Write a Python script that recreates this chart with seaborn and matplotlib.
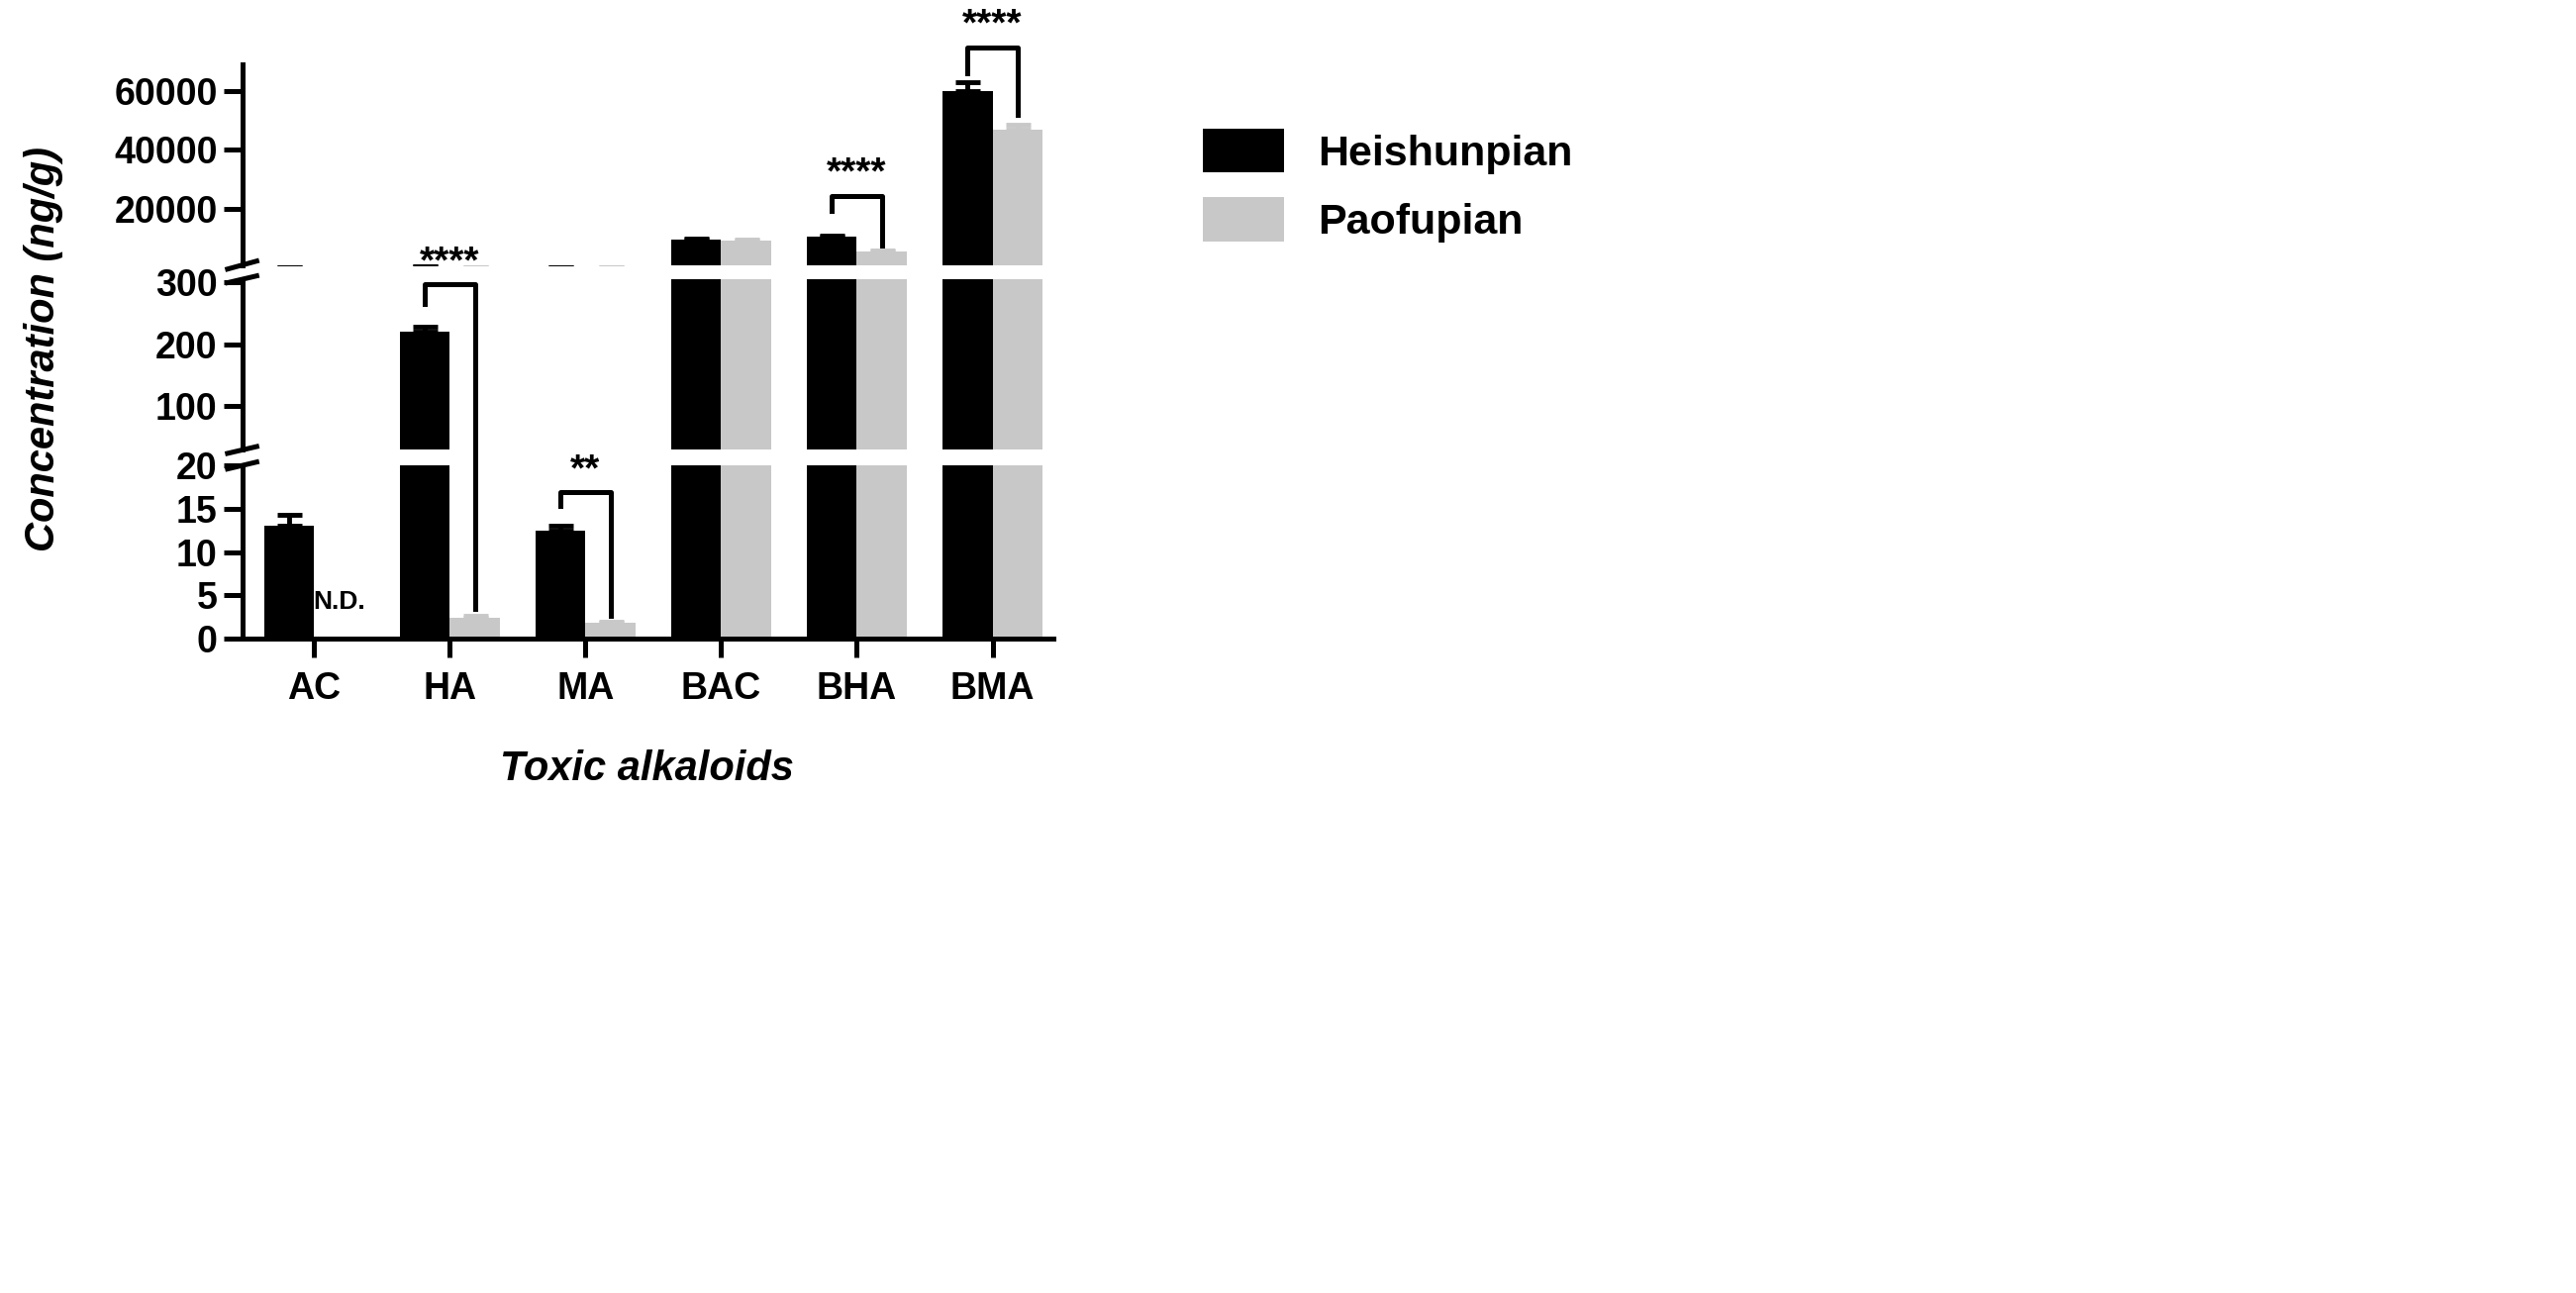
import numpy as np
import pandas as pd
import matplotlib
matplotlib.use('Agg')
import matplotlib.pyplot as plt
from matplotlib.lines import Line2D
import seaborn as sns

plt.rcParams['font.family'] = 'Liberation Sans'
plt.rcParams['font.weight'] = 'bold'

categories = ['AC', 'HA', 'MA', 'BAC', 'BHA', 'BMA']
heishunpian = [13.0, 220, 12.5, 9500, 10300, 60000]
heishunpian_err = [1.3, 8, 0.6, 300, 400, 3000]
paofupian = [0.0, 2.4, 1.8, 9000, 5500, 47000]
paofupian_err = [0.0, 0.2, 0.2, 300, 300, 1500]

df = pd.DataFrame({
    'Alkaloid': categories * 2,
    'Concentration': heishunpian + paofupian,
    'Group': ['Heishunpian'] * 6 + ['Paofupian'] * 6,
})
palette = {'Heishunpian': '#000000', 'Paofupian': '#c8c8c8'}

fig = plt.figure(figsize=(26.02, 13.06), dpi=100)
L, W = 0.094, 0.315
ax_top = fig.add_axes([L, 0.795, W, 0.155])
ax_mid = fig.add_axes([L, 0.652, W, 0.132])
ax_bot = fig.add_axes([L, 0.506, W, 0.134])
axes = [ax_top, ax_mid, ax_bot]

width = 0.74
for ax in axes:
    sns.barplot(data=df, x='Alkaloid', y='Concentration', hue='Group', palette=palette,
                width=width, errorbar=None, ax=ax, legend=(ax is ax_top), saturation=1,
                linewidth=0)
    for i in range(6):
        for off, vals, errs, col in [(-width / 4, heishunpian, heishunpian_err, 'black'),
                                     (width / 4, paofupian, paofupian_err, '#c8c8c8')]:
            if errs[i] > 0:
                ax.errorbar(i + off, vals[i], yerr=[[0], [errs[i]]], color=col,
                            capsize=9, capthick=3.5, elinewidth=3.5)
    ax.set_xlim(-0.53, 5.45)
    ax.set_xlabel('')
    ax.set_ylabel('')
    for s in ['top', 'right']:
        ax.spines[s].set_visible(False)
    ax.spines['left'].set_linewidth(3.6)
    ax.tick_params(axis='y', width=3.6, length=14, labelsize=27, pad=4)
    ax.tick_params(axis='x', width=3.6, length=14, labelsize=27, pad=10)

ax_top.set_ylim(700, 69000)
ax_top.set_yticks([20000, 40000, 60000])
ax_mid.set_ylim(29, 305)
ax_mid.set_yticks([100, 200, 300])
ax_bot.set_ylim(0, 20)
ax_bot.set_yticks([0, 5, 10, 15, 20])

for ax in [ax_top, ax_mid]:
    ax.spines['bottom'].set_visible(False)
    ax.tick_params(axis='x', bottom=False, labelbottom=False)
ax_bot.spines['bottom'].set_linewidth(3.6)
for ax in axes:
    for t in ax.get_yticklabels() + ax.get_xticklabels():
        t.set_fontweight('bold')

# break marks on the left spine
kw = dict(color='black', lw=3.6, clip_on=False)
for ax, ends in [(ax_top, [0]), (ax_mid, [0, 1]), (ax_bot, [1])]:
    for e in ends:
        ax.plot([-0.018, 0.018], [e - 0.02, e + 0.02], transform=ax.transAxes, **kw)

ax_bot.text(0 + width / 4, 4.3, 'N.D.', ha='center', va='center', fontsize=19, fontweight='bold')

def to_fig(ax, x, y):
    p = ax.transData.transform((x, y))
    return fig.transFigure.inverted().transform(p)

def bracket(i, ax_l, y_top, y_l, ax_r, y_r, label):
    xl, xr = i - width / 4, i + width / 4
    p1 = to_fig(ax_l, xl, y_l)
    p2 = to_fig(ax_l, xl, y_top)
    p3 = to_fig(ax_l, xr, y_top)
    p4 = to_fig(ax_r, xr, y_r)
    fig.add_artist(Line2D([p1[0], p2[0], p3[0], p4[0]], [p1[1], p2[1], p3[1], p4[1]],
                          color='black', lw=3.6, transform=fig.transFigure))
    fig.text((p2[0] + p3[0]) / 2, p2[1] + 0.003, label, ha='center', va='bottom',
             fontsize=28, fontweight='bold')

bracket(1, ax_mid, 297, 265, ax_bot, 3.5, '****')
bracket(2, ax_bot, 16.9, 15.3, ax_bot, 2.6, '**')
bracket(4, ax_top, 24300, 19000, ax_top, 7500, '****')
bracket(5, ax_top, 75000, 66000, ax_top, 52000, '****')

fig.text(0.017, 0.73, 'Concentration (ng/g)', rotation=90, ha='center', va='center',
         fontsize=30, fontweight='bold', fontstyle='italic')
fig.text(0.251, 0.405, 'Toxic alkaloids', ha='center', va='center',
         fontsize=30, fontweight='bold', fontstyle='italic')

leg = ax_top.get_legend()
handles, labels = leg.legend_handles, [t.get_text() for t in leg.get_texts()]
leg.remove()
fig.legend(handles, labels, loc='upper left', bbox_to_anchor=(0.452, 0.93), frameon=False,
           handlelength=1.9, handleheight=1.2, labelspacing=0.55,
           prop={'weight': 'bold', 'size': 31})

fig.savefig('out.png', dpi=100)
